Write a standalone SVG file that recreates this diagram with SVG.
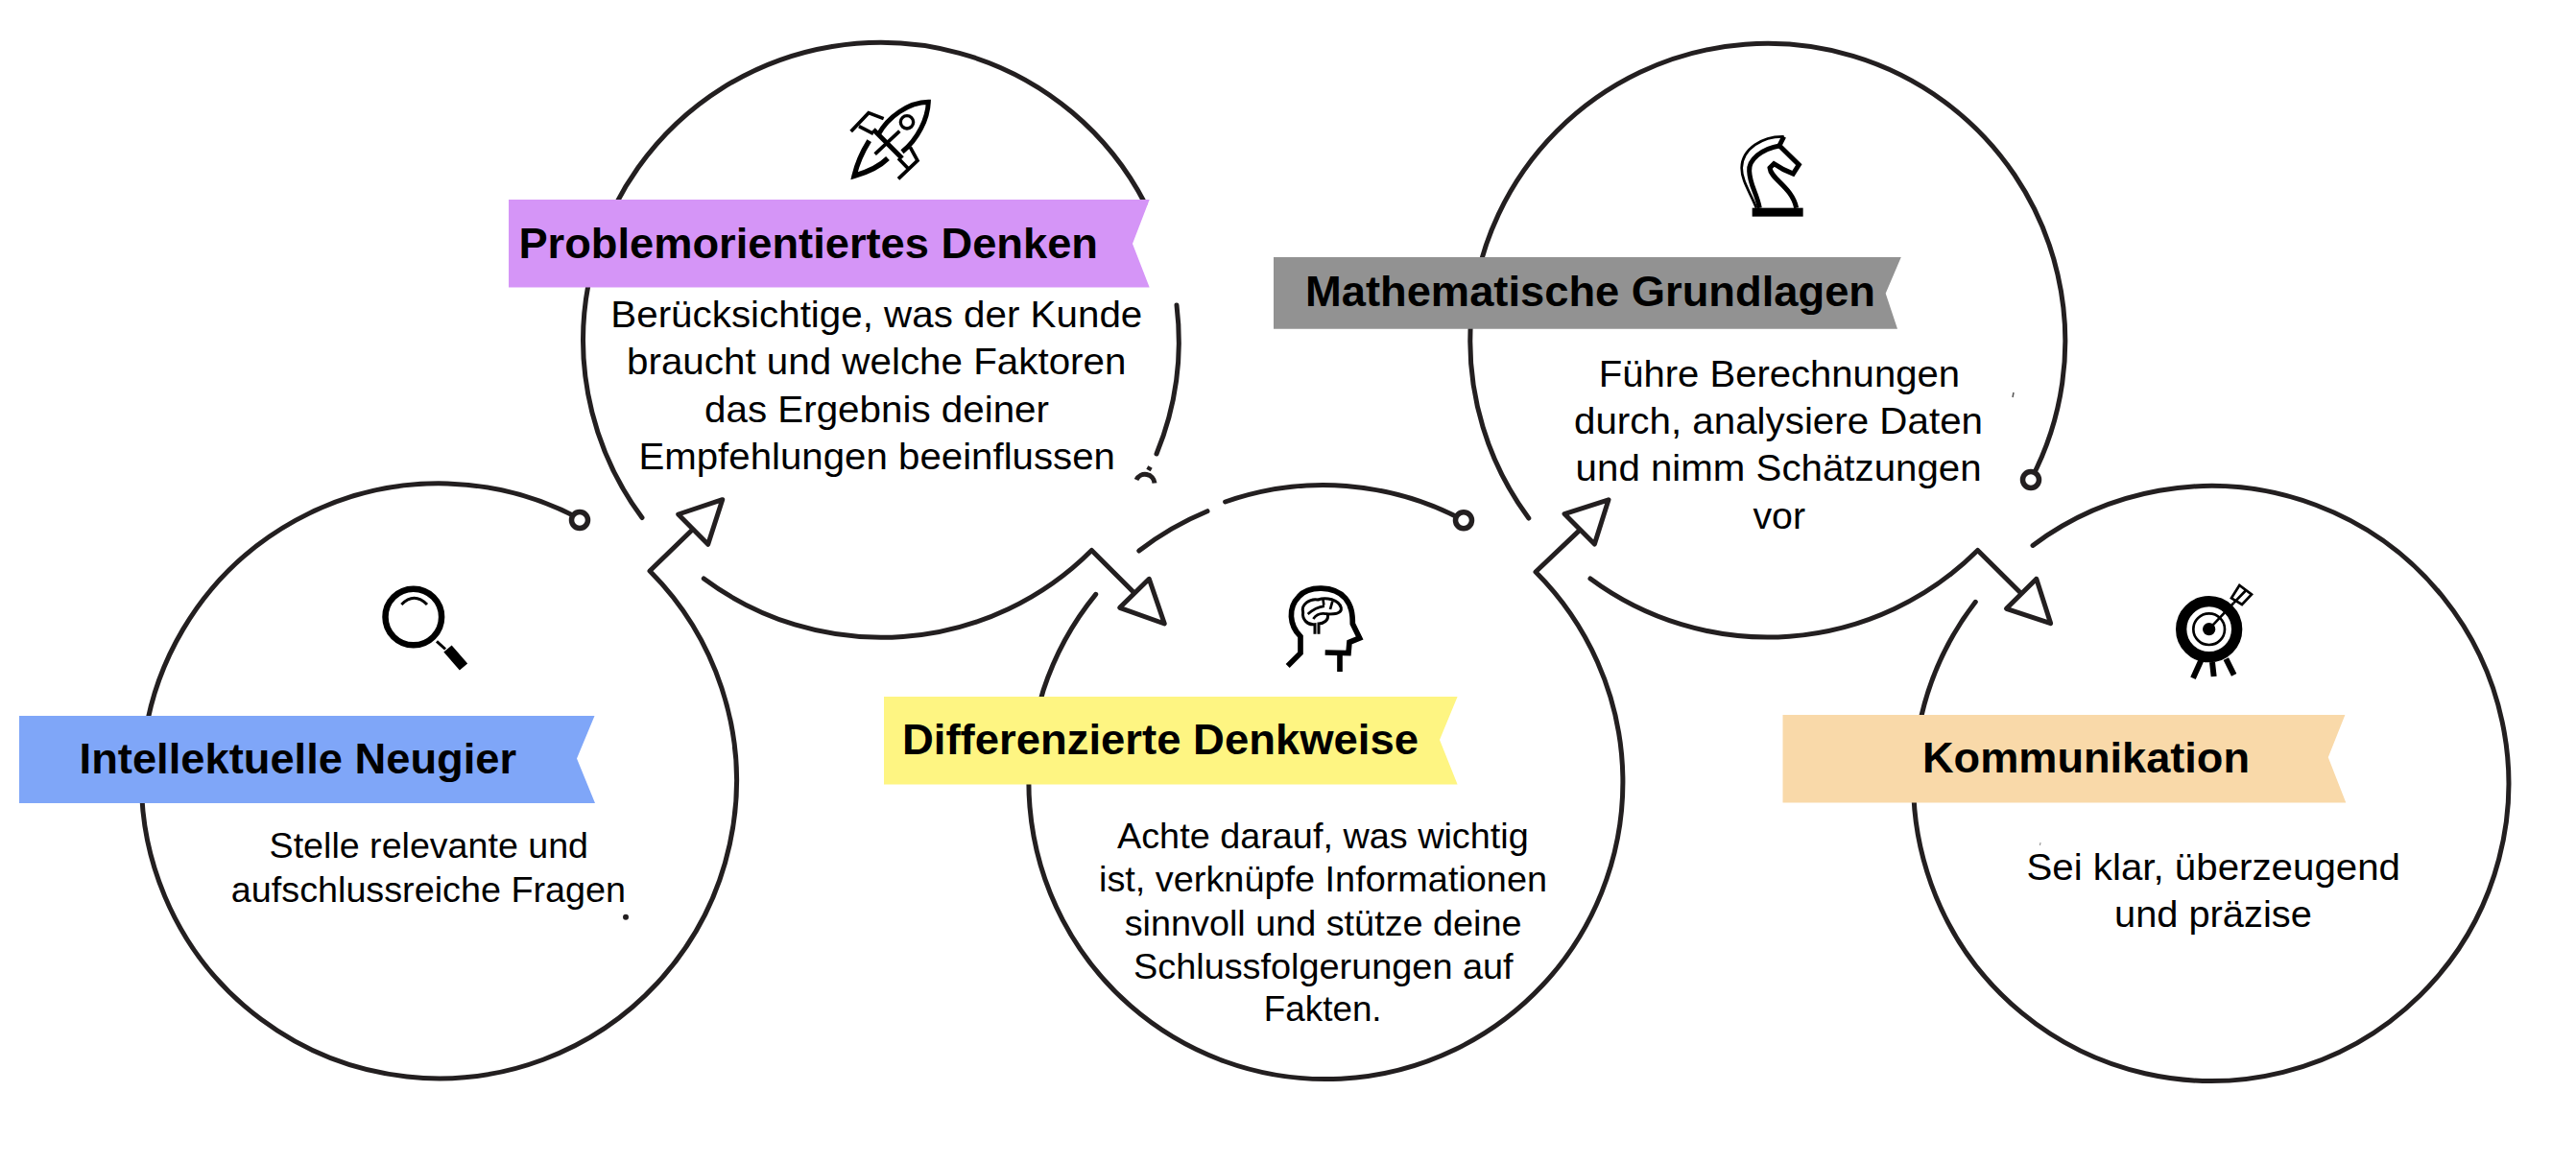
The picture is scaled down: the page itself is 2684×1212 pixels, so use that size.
<svg xmlns="http://www.w3.org/2000/svg" width="2684" height="1212" viewBox="0 0 2684 1212">
<style>
.arc{fill:none;stroke:#231f20;stroke-width:5;stroke-linecap:round;stroke-linejoin:round}
.head{fill:#fff;stroke:#231f20;stroke-width:5;stroke-linejoin:round}
.ring{fill:#fff;stroke:#231f20;stroke-width:5.5}
.t{font-family:"Liberation Sans",Arial,sans-serif;font-weight:700;font-size:45px;fill:#000}
.b{font-family:"Liberation Sans",Arial,sans-serif;font-size:37px;fill:#000}
.b2{font-size:39px}
.i{fill:none;stroke:#000;stroke-linejoin:miter}
</style>
<rect width="2684" height="1212" fill="#fff"/>
<g id="connectors">
<path class="arc" d="M604.600 541A310 310 0 1 0 677 595L721.700 551.700"/>
<polygon class="head" points="752.700,520.700 706.700,536 737.700,567.300"/>
<circle class="ring" cx="604" cy="542" r="8.500"/>
<path class="arc" d="M669 539.500A310 310 0 1 1 1193 212"/>
<path class="arc" d="M1226 318A310 310 0 0 1 1205 473"/>
<path d="M1184 500A10 10 0 0 1 1203 503.500M1196.500 490L1198.500 486.500" fill="none" stroke="#231f20" stroke-width="5"/>
<path class="arc" d="M733.300 603A309.500 309.500 0 0 0 1137.400 573.400L1181.700 617.700"/>
<polygon class="head" points="1197.300,603.300 1166.700,633.300 1213.300,650"/>
<path class="arc" d="M1141.700 619.300A309.500 309.500 0 1 0 1600 596L1646 552.400"/>
<polygon class="head" points="1676,520.800 1630,535.600 1661.400,567"/>
<path class="arc" d="M1186.700 574A309.500 309.500 0 0 1 1258 532.700"/>
<path class="arc" d="M1276.600 523A309.500 309.500 0 0 1 1525 542.300"/>
<circle class="ring" cx="1525" cy="542.300" r="8.500"/>
<path class="arc" d="M1592.800 540A310 310 0 1 1 2116 500"/>
<circle class="ring" cx="2116" cy="500" r="8.500"/>
<path class="arc" d="M1657 603A310 310 0 0 0 2060.600 573.500L2106.500 619"/>
<polygon class="head" points="2121.800,603.200 2090.500,634.300 2136.600,649.600"/>
<path class="arc" d="M2058.300 627.300A310 310 0 1 0 2118 568.400"/>
</g>
<g id="node-neugier">
<polygon points="20,746 619.500,746 601,790.500 620,837 20,837" fill="#7fa6f8"/>
<text class="t" x="82.600" y="806" textLength="455.500" lengthAdjust="spacingAndGlyphs">Intellektuelle Neugier</text>
<text class="b" x="280.600" y="894" textLength="332.400" lengthAdjust="spacingAndGlyphs">Stelle relevante und</text>
<text class="b" x="240.800" y="939.700" textLength="411.200" lengthAdjust="spacingAndGlyphs">aufschlussreiche Fragen</text>
<circle cx="652" cy="955.700" r="3" fill="#231f20"/>
<g id="icon-lupe">
<circle class="i" cx="430.800" cy="643" r="29.300" stroke-width="6.500"/>
<path class="i" d="M418.300 630Q431.500 616.500 445 630" stroke-width="3"/>
<path class="i" d="M455 668.300L464 676.500" stroke-width="3"/>
<path class="i" d="M466.500 676L483 695" stroke-width="11"/>
</g>
</g>
<g id="node-problem">
<polygon points="530,208 1197.700,208 1180,254 1197.700,299.400 530,299.400" fill="#d595f7"/>
<text class="t" x="540.400" y="269" textLength="603.600" lengthAdjust="spacingAndGlyphs">Problemorientiertes Denken</text>
<text class="b b2" x="636.300" y="340.600" textLength="554" lengthAdjust="spacingAndGlyphs">Berücksichtige, was der Kunde</text>
<text class="b b2" x="653" y="390" textLength="520.400" lengthAdjust="spacingAndGlyphs">braucht und welche Faktoren</text>
<text class="b b2" x="734" y="439.500" textLength="359" lengthAdjust="spacingAndGlyphs">das Ergebnis deiner</text>
<text class="b b2" x="665.400" y="488.800" textLength="496.600" lengthAdjust="spacingAndGlyphs">Empfehlungen beeinflussen</text>
<g id="icon-rakete" transform="translate(860 80) scale(.3333)">
<path class="i" stroke-width="15" d="M165 182C195 125 260 80 322 79C320 130 290 195 240 235"/>
<path class="i" stroke-width="15" d="M150 165L240 255"/>
<path class="i" stroke-width="11" d="M80 171L135 113L182 131M105 155L150 178"/>
<path class="i" stroke-width="11" d="M228 319L288 262L265 220M228 255L262 290"/>
<path class="i" stroke-width="16" d="M137 200C112 240 97 280 90 310C125 300 165 285 195 255"/>
<circle class="i" cx="255" cy="142" r="20" stroke-width="10"/>
<path class="i" stroke-width="11" d="M155 242L232 170"/>
</g>
</g>
<g id="node-denkweise">
<polygon points="921,726 1518.600,726 1500,771 1518.600,817.500 921,817.500" fill="#fef582"/>
<text class="t" x="940" y="786.400" textLength="538" lengthAdjust="spacingAndGlyphs">Differenzierte Denkweise</text>
<text class="b" x="1164" y="884" textLength="428.700" lengthAdjust="spacingAndGlyphs">Achte darauf, was wichtig</text>
<text class="b" x="1145" y="929" textLength="467" lengthAdjust="spacingAndGlyphs">ist, verknüpfe Informationen</text>
<text class="b" x="1171.700" y="974.500" textLength="413.800" lengthAdjust="spacingAndGlyphs">sinnvoll und stütze deine</text>
<text class="b" x="1181" y="1019.600" textLength="395.600" lengthAdjust="spacingAndGlyphs">Schlussfolgerungen auf</text>
<text class="b" x="1316.800" y="1064" textLength="122.800" lengthAdjust="spacingAndGlyphs">Fakten.</text>
<g id="icon-kopf" transform="translate(1320 590) scale(.3333)">
<path class="i" stroke-width="17" d="M65 312L105 272V220C70 185 65 130 100 95C130 60 210 60 245 100C265 125 268 150 268 180L290 225L258 238L255 272L182 270"/>
<path class="i" stroke-width="17" d="M228 270V330"/>
<path class="i" stroke-width="9" d="M150 212V182C125 185 110 165 113 145C105 120 135 100 160 105C185 95 225 105 232 130C235 150 210 150 190 150C195 170 175 180 162 180V212"/>
<path class="i" stroke-width="8" d="M128 150C145 135 165 127 180 125M145 165C155 150 170 145 190 150M175 100L178 122M205 110L198 135"/>
</g>
</g>
<g id="node-mathe">
<polygon points="1327,268 1980.800,268 1964.700,305.700 1977,342.700 1327,342.700" fill="#929292"/>
<text class="t" x="1360" y="319" textLength="594" lengthAdjust="spacingAndGlyphs">Mathematische Grundlagen</text>
<text class="b b2" x="1665.700" y="402.500" textLength="376.300" lengthAdjust="spacingAndGlyphs">Führe Berechnungen</text>
<text class="b b2" x="1640" y="452" textLength="426" lengthAdjust="spacingAndGlyphs">durch, analysiere Daten</text>
<text class="b b2" x="1641.600" y="501.400" textLength="423" lengthAdjust="spacingAndGlyphs">und nimm Schätzungen</text>
<text class="b b2" x="1826.400" y="551" textLength="54.600" lengthAdjust="spacingAndGlyphs">vor</text>
<path d="M2098 409L2097 414" stroke="#555" stroke-width="1.500"/>
<g id="icon-springer" transform="translate(1780 120) scale(.3333)">
<rect x="137" y="290" width="159" height="27" fill="#000"/>
<path class="i" stroke-width="8" d="M236 67C170 65 105 105 104 165C104 205 130 240 150 290"/>
<path class="i" stroke-width="15" d="M225 95C165 105 125 140 128 175C130 220 150 240 160 290"/>
<path class="i" stroke-width="15" d="M236 67L222 95L283 155L265 183L235 170L205 152L192 165C195 200 262 225 275 290"/>
</g>
</g>
<g id="node-kommunikation">
<polygon points="1857.500,745 2443.400,745 2425.800,789.300 2444.300,836.500 1857.500,836.500" fill="#f9d9a9"/>
<text class="t" x="2003" y="805" textLength="341" lengthAdjust="spacingAndGlyphs">Kommunikation</text>
<text class="b b2" x="2111.400" y="916.500" textLength="389.600" lengthAdjust="spacingAndGlyphs">Sei klar, überzeugend</text>
<text class="b b2" x="2203" y="966" textLength="205.800" lengthAdjust="spacingAndGlyphs">und präzise</text>
<path d="M2126 878L2125.500 881" stroke="#888" stroke-width="1"/>
<g id="icon-ziel" transform="translate(2250 590) scale(.3333)">
<circle class="i" cx="155" cy="197" r="87" stroke-width="34"/>
<circle class="i" cx="155" cy="197" r="49" stroke-width="8"/>
<circle cx="155" cy="197" r="20" fill="#000"/>
<path class="i" stroke-width="8" d="M155 197L232 115"/>
<path class="i" stroke-width="8" d="M225 100L250 60L288 88L258 120ZM232 115L268 78"/>
<path class="i" stroke-width="18" d="M130 295L105 350M165 300L170 345M208 290L233 340"/>
</g>
</g>
</svg>
